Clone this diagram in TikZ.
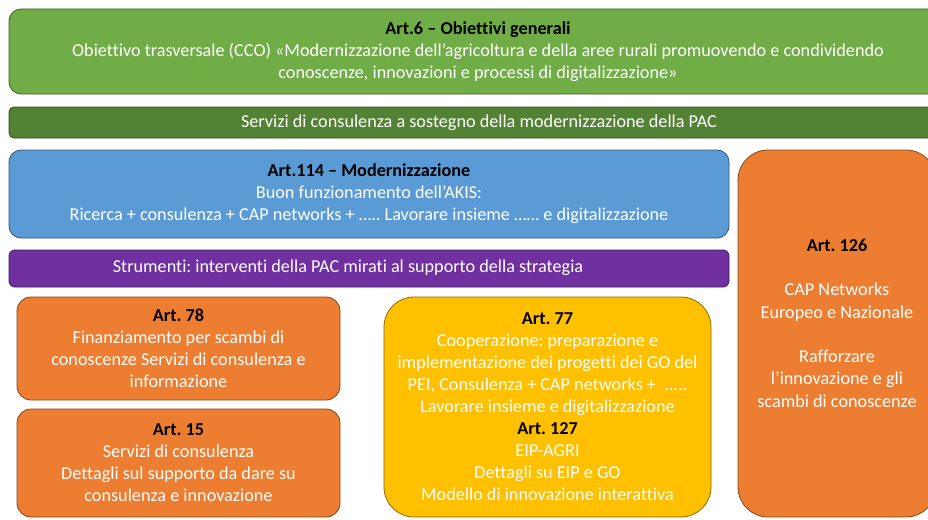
\documentclass[tikz,border=0pt]{standalone}
\usepackage{fontspec}
\setmainfont{Carlito}[Ligatures={NoCommon}]
\usepackage{xcolor}
\usetikzlibrary{positioning}
\definecolor{objgreen}{HTML}{70AD47}
\definecolor{pacgreen}{HTML}{548235}
\definecolor{akisblue}{HTML}{5B9BD5}
\definecolor{strumpurple}{HTML}{7030A0}
\definecolor{artorange}{HTML}{ED7D31}
\definecolor{coopyellow}{HTML}{FFC000}
\newcommand{\arttitle}[1]{\textcolor{black}{\textbf{#1}}}
\frenchspacing

\begin{document}
\begin{tikzpicture}[
    x=1pt, y=-1pt,
    panel/.style={draw=#1!55!black, fill=#1, line width=0.8pt, rounded corners=12pt,
        text=white, align=center, inner sep=0pt, font=\fontsize{18.2}{22}\selectfont},
    bar/.style={panel=#1, rounded corners=5pt},
    bigpanel/.style={panel=#1, rounded corners=30pt}
]
    \clip (0,0) rectangle (928,519);
    % obiettivi e servizi
    \node[panel=objgreen, minimum width=938pt, minimum height=85pt] (obj) at (478,51.5)
        {\arttitle{Art.6 – Obiettivi generali}\\
         Obiettivo trasversale (CCO) «Modernizzazione dell’agricoltura e della aree rurali promuovendo e condividendo\\
         conoscenze, innovazioni e processi di digitalizzazione»};
    \node[bar=pacgreen, minimum width=940pt, minimum height=31pt] (serv) at (479,122.5)
        {Servizi di consulenza a sostegno della modernizzazione della PAC};
    % modernizzazione e strumenti
    \node[panel=akisblue, minimum width=720pt, minimum height=88pt] (mod) at (369,194)
        {\arttitle{Art.114 – Modernizzazione}\\
         Buon funzionamento dell’AKIS:\\
         Ricerca + consulenza + CAP networks + ….. Lavorare insieme …… e digitalizzazione};
    \node[bar=strumpurple, rounded corners=6pt, minimum width=720pt, minimum height=37pt] (strum) at (369,268.5) {};
    \node[text=white, inner sep=0pt, font=\fontsize{18.2}{22}\selectfont] (strumtxt) at (348,268)
        {Strumenti: interventi della PAC mirati al supporto della strategia};
    % interventi
    \node[panel=artorange, rounded corners=14pt, minimum width=323pt, minimum height=103pt] (art78) at (178.5,348.5)
        {\arttitle{Art. 78}\\
         Finanziamento per scambi di\\
         conoscenze Servizi di consulenza e\\
         informazione};
    \node[panel=artorange, rounded corners=14pt, minimum width=323pt, minimum height=108pt] (art15) at (178.5,463)
        {\arttitle{Art. 15}\\
         Servizi di consulenza\\
         Dettagli sul supporto da dare su\\
         consulenza e innovazione};
    \node[bigpanel=coopyellow, minimum width=327pt, minimum height=220pt] (art77) at (547.5,407)
        {\arttitle{Art. 77}\\
         Cooperazione: preparazione e\\
         implementazione dei progetti dei GO del\\
         PEI, Consulenza + CAP networks + \ .....\\
         Lavorare insieme e digitalizzazione\\
         \arttitle{Art. 127}\\
         EIP-AGRI\\
         Dettagli su EIP e GO\\
         Modello di innovazione interattiva};
    % reti
    \node[bigpanel=artorange, minimum width=198pt, minimum height=367pt] (art126) at (837,333.5) {};
    \node[text=white, align=center, inner sep=0pt, font=\fontsize{18.2}{22.3}\selectfont] (art126txt) at (837,323)
        {\arttitle{Art. 126}\\[22.3pt]
         CAP Networks\\
         Europeo e Nazionale\\[22.3pt]
         Rafforzare\\
         l’innovazione e gli\\
         scambi di conoscenze};
\end{tikzpicture}
\end{document}
